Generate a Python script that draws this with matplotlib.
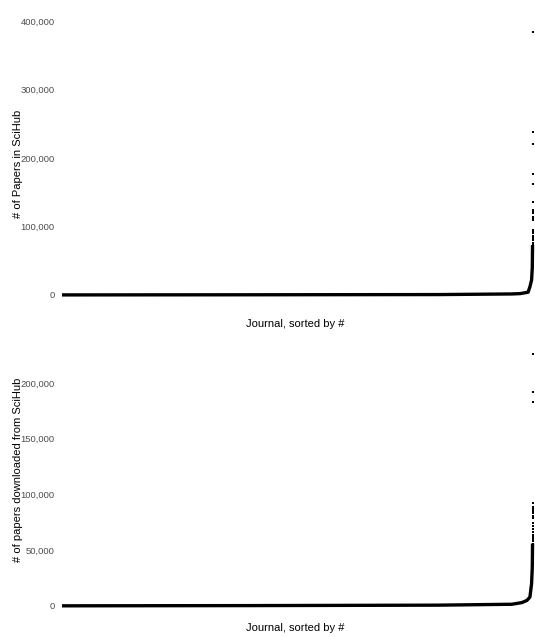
import numpy as np
import matplotlib.pyplot as plt
from matplotlib.ticker import FuncFormatter

plt.rcParams['font.family'] = ['Liberation Sans', 'DejaVu Sans']

N_JOURNALS = 20000

# journals sorted by number of papers in SciHub (bulk of the curve)
papers_rank = [1, 8000, 16000, 19100, 19450, 19790, 19870, 19940, 19970, 19980]
papers_val = [100, 300, 600, 1500, 2000, 4000, 12000, 22000, 40000, 70000]
# the largest journals, one value each
papers_top = [73000, 76000, 80000, 83000, 86000, 90000, 93000, 95000, 109000, 112000,
              114000, 120000, 122000, 124000, 136000, 162000, 177000, 220000, 238000, 384000]

# journals sorted by number of papers downloaded from SciHub
dl_rank = [1, 8000, 16000, 19100, 19530, 19745, 19870, 19940, 19970, 19980]
dl_val = [100, 300, 700, 1500, 3000, 5000, 8000, 20000, 35000, 54000]
dl_top = [56000, 58000, 60000, 62000, 64000, 66000, 69000, 72000, 74000, 79000, 81000,
          83000, 85000, 87000, 89000, 92000, 183000, 192000, 226000]

fmt = FuncFormatter(lambda v, p: f"{int(v):,}")


def panel(ax, rank, val, top, ylabel, ylim, yticks, xpad, ylab_y):
    top_rank = np.arange(N_JOURNALS - len(top) + 1, N_JOURNALS + 1)
    ax.plot(rank + [top_rank[0]], val + [top[0]], color='black', lw=2.4,
            solid_capstyle='butt')
    ax.plot(top_rank, top, 's', color='black', ms=1.7, mew=0)
    ax.set_xlim(-254, 20085)
    ax.set_ylim(*ylim)
    ax.set_yticks(yticks)
    ax.yaxis.set_major_formatter(fmt)
    ax.set_xticks([])
    for s in ax.spines.values():
        s.set_visible(False)
    ax.tick_params(axis='y', length=0, pad=1, labelsize=6.8, labelcolor='#4d4d4d')
    ax.set_ylabel(ylabel, fontsize=8, labelpad=-2)
    ax.yaxis.label.set_y(ylab_y)
    ax.set_xlabel('Journal, sorted by #', fontsize=8, labelpad=xpad)


fig = plt.figure(figsize=(5.35, 6.37), dpi=100)
ax1 = fig.add_axes([0.1047, 0.5165, 0.8953, 0.4535])
ax2 = fig.add_axes([0.1047, 0.0283, 0.8953, 0.4364])

panel(ax1, papers_rank, papers_val, papers_top, '# of Papers in SciHub',
      (-19000, 403000), [0, 100000, 200000, 300000, 400000], 8, 0.5)
panel(ax2, dl_rank, dl_val, dl_top, '# of papers downloaded from SciHub',
      (-11700, 237700), [0, 50000, 100000, 150000, 200000], 3, 0.536)

fig.savefig('out.png', dpi=100)
